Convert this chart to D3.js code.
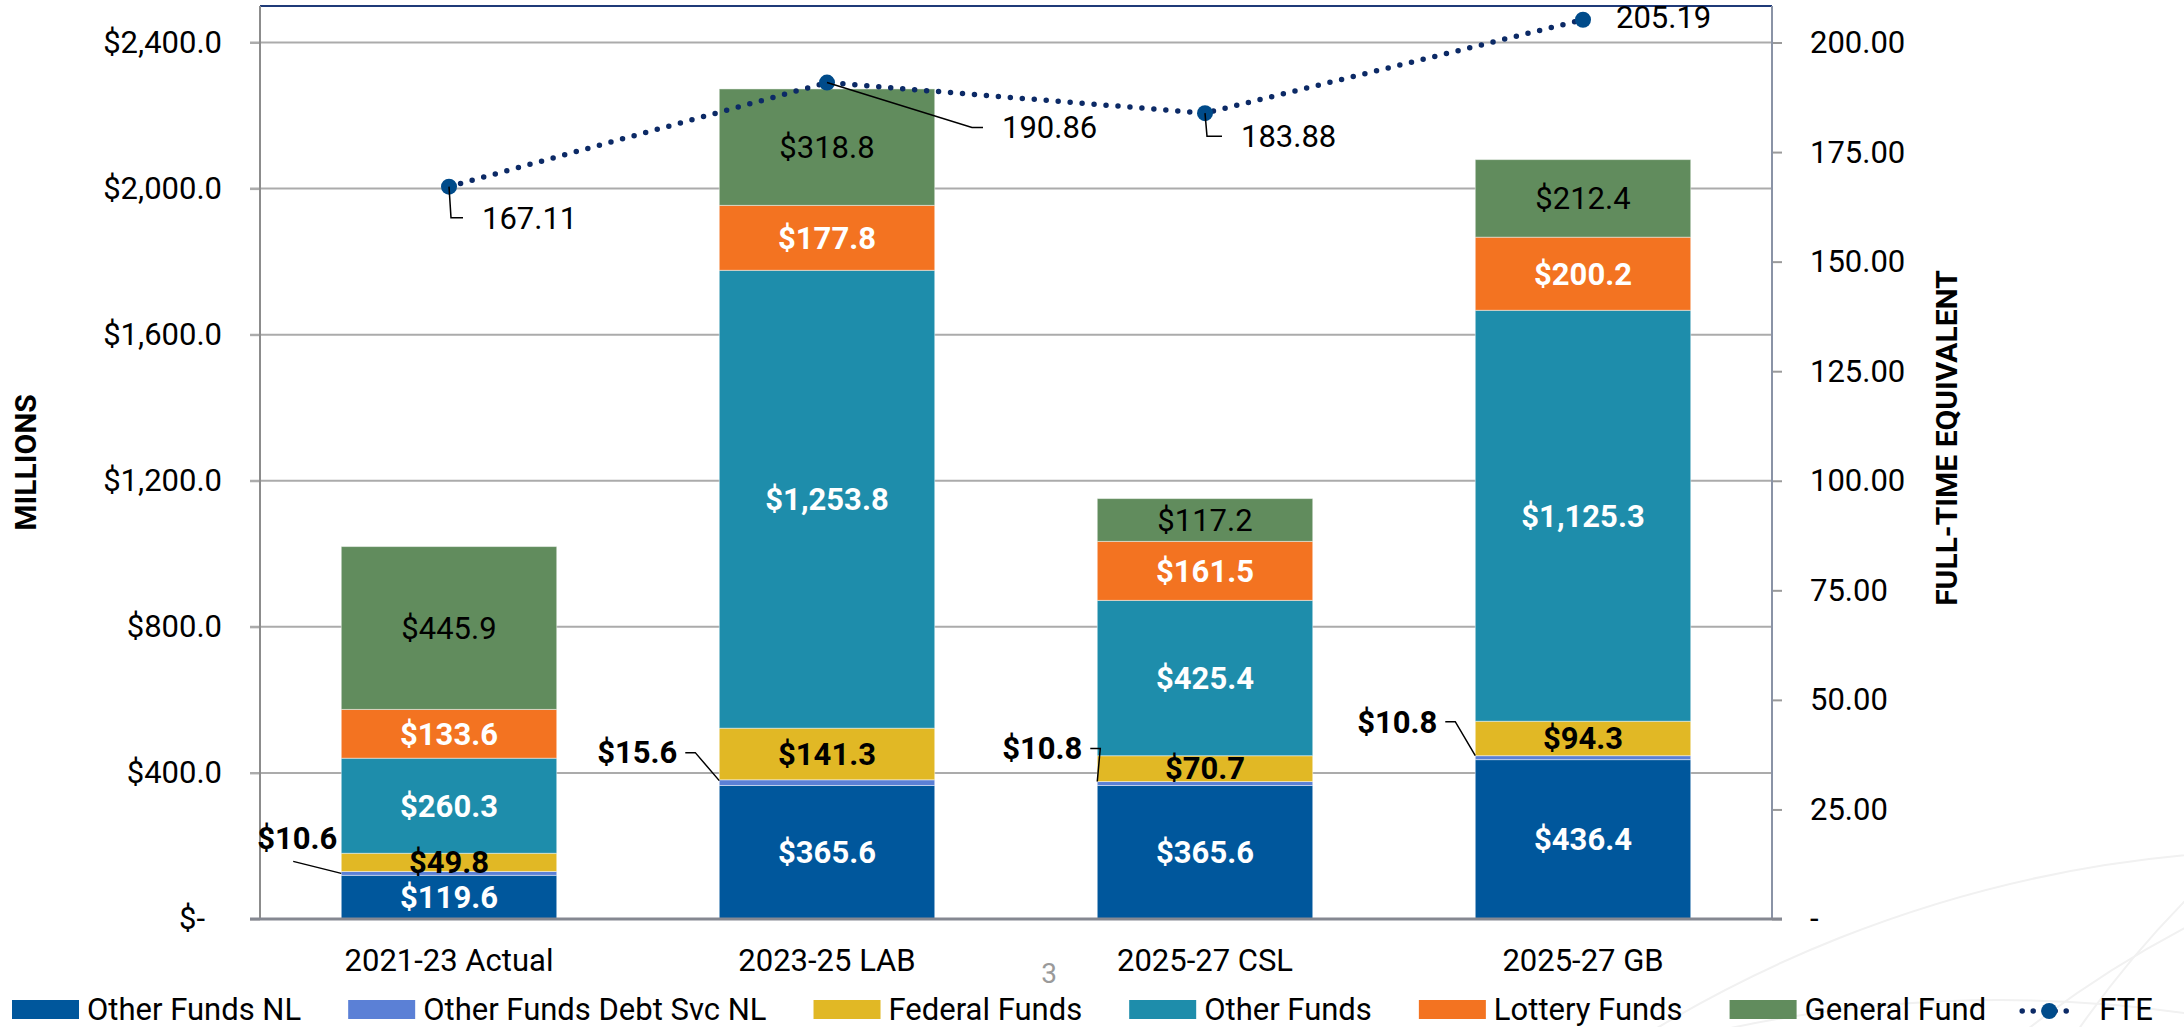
<!DOCTYPE html>
<html>
<head>
<meta charset="utf-8">
<script src="https://cdn.jsdelivr.net/npm/d3@7"></script>
<style>
  body { margin: 0; background: #fff; }
  svg { display: block; font-family: Roboto, "Noto Sans", sans-serif; }
</style>
</head>
<body>
<svg id="chart" width="2184" height="1027"></svg>
<script>
// values (millions / FTE)
const categories = ["2021-23 Actual", "2023-25 LAB", "2025-27 CSL", "2025-27 GB"];
const otherFundsNL = [119.6, 365.6, 365.6, 436.4];
const debtSvcNL = [10.6, 15.6, 10.8, 10.8];
const federalFunds = [49.8, 141.3, 70.7, 94.3];
const otherFunds = [260.3, 1253.8, 425.4, 1125.3];
const lotteryFunds = [133.6, 177.8, 161.5, 200.2];
const generalFund = [445.9, 318.8, 117.2, 212.4];
const fte = [167.11, 190.86, 183.88, 205.19];
const leftTicks = [0, 400, 800, 1200, 1600, 2000, 2400];
const rightTicks = [0, 25, 50, 75, 100, 125, 150, 175, 200];

const series = [
  { key: "nl", name: "Other Funds NL", values: otherFundsNL, color: "#00579c", text: "#fff", bold: true },
  { key: "debt", name: "Other Funds Debt Svc NL", values: debtSvcNL, color: "#5b80d6", text: "#000", bold: true, outside: true },
  { key: "fed", name: "Federal Funds", values: federalFunds, color: "#e1b825", text: "#000", bold: true },
  { key: "of", name: "Other Funds", values: otherFunds, color: "#1e8dab", text: "#fff", bold: true },
  { key: "lot", name: "Lottery Funds", values: lotteryFunds, color: "#f37321", text: "#fff", bold: true },
  { key: "gf", name: "General Fund", values: generalFund, color: "#618c5d", text: "#000", bold: false }
];

// hand-placed label offsets (like the moved labels in the source)
const debtLabelPos = [ { dx: -4, dy: -35, lead: "diag" }, { dx: -42, dy: -30, lead: "elbow" },
                       { dx: -15, dy: -35, lead: "elbow" }, { dx: -38, dy: -36, lead: "elbow" } ];
const fteLabelPos = [ { dx: 33, dy: 31, lead: "down" }, { dx: 175, dy: 45, lead: "diag" },
                      { dx: 36, dy: 23, lead: "down" }, { dx: 33, dy: -3, lead: "none" } ];

const svg = d3.select("#chart");
const W = +svg.attr("width"), H = +svg.attr("height");
const margin = { top: 6, right: 412, bottom: 108, left: 260 };
const width = W - margin.left - margin.right;
const height = H - margin.top - margin.bottom;

// faint background swirls, bottom right
const bg = svg.append("g").attr("fill", "none").attr("stroke", "#f1f1f1").attr("stroke-width", 2);
[[2300, 2100, 1250], [2700, 1900, 1100], [2000, 2300, 1300], [2900, 1600, 1000]].forEach(c => {
  bg.append("circle").attr("cx", c[0]).attr("cy", c[1]).attr("r", c[2]);
});

const g = svg.append("g").attr("transform", `translate(${margin.left},${margin.top})`);

const x = d3.scaleBand().domain(categories).range([0, width]).paddingInner(0.43).paddingOuter(0.215);
const y = d3.scaleLinear().domain([0, 2500]).range([height, 0]);
const y2 = d3.scaleLinear().domain([0, 2500 / 12]).range([height, 0]);

// gridlines
g.append("g").selectAll("line").data(leftTicks.filter(d => d > 0)).join("line")
  .attr("x1", -10).attr("x2", width)
  .attr("y1", d => y(d)).attr("y2", d => y(d))
  .attr("stroke", "#ababab").attr("stroke-width", 2);

// top border
g.append("line").attr("x1", 0).attr("x2", width).attr("y1", 0).attr("y2", 0)
  .attr("stroke", "#1f3a78").attr("stroke-width", 2);

// stacked bars
const table = categories.map((c, i) => {
  const row = { cat: c };
  series.forEach(s => row[s.key] = s.values[i]);
  return row;
});
const stacked = d3.stack().keys(series.map(s => s.key))(table);

const layers = g.append("g").selectAll("g").data(stacked).join("g")
  .attr("fill", (d, i) => series[i].color);
layers.selectAll("rect").data(d => d).join("rect")
  .attr("x", d => x(d.data.cat))
  .attr("width", x.bandwidth())
  .attr("y", d => y(d[1]))
  .attr("height", d => y(d[0]) - y(d[1]))
  .attr("stroke", "rgba(255,255,255,0.45)").attr("stroke-width", 1);

// axes
const fmtLeft = d => d === 0 ? "$-" : "$" + d3.format(",.1f")(d);
const leftAxis = g.append("g")
  .call(d3.axisLeft(y).tickValues(leftTicks).tickFormat(fmtLeft).tickSize(10).tickPadding(28));
leftAxis.select(".domain").remove();
leftAxis.selectAll(".tick line").attr("stroke", "#ababab").attr("stroke-width", 2);
leftAxis.selectAll(".tick text").attr("font-size", 31).attr("fill", "#000")
  .attr("font-family", "Roboto")
  .attr("dx", d => d === 0 ? -17 : 0);
g.append("line").attr("x1", 0).attr("x2", 0).attr("y1", 0).attr("y2", height)
  .attr("stroke", "#8c8c8c").attr("stroke-width", 2);

const rightAxis = g.append("g").attr("transform", `translate(${width},0)`)
  .call(d3.axisRight(y2).tickValues(rightTicks)
    .tickFormat(d => d === 0 ? "-" : d3.format(".2f")(d)).tickSize(10).tickPadding(28));
rightAxis.select(".domain").remove();
rightAxis.selectAll(".tick line").attr("stroke", "#9a9a9a").attr("stroke-width", 2);
rightAxis.selectAll(".tick text").attr("font-size", 31).attr("fill", "#000").attr("font-family", "Roboto");
g.append("line").attr("x1", width).attr("x2", width).attr("y1", 0).attr("y2", height)
  .attr("stroke", "#8a93a6").attr("stroke-width", 2);

// baseline
g.append("line").attr("x1", -10).attr("x2", width + 10).attr("y1", height).attr("y2", height)
  .attr("stroke", "#858891").attr("stroke-width", 3);

// category labels
g.append("g").selectAll("text").data(categories).join("text")
  .attr("x", d => x(d) + x.bandwidth() / 2)
  .attr("y", height + 41)
  .attr("dy", "0.35em")
  .attr("text-anchor", "middle")
  .attr("font-size", 31)
  .text(d => d);

// segment labels
const fmtVal = d => "$" + d3.format(",.1f")(d);
stacked.forEach((layer, si) => {
  const s = series[si];
  layer.forEach((d, i) => {
    const mid = (y(d[0]) + y(d[1])) / 2;
    const left = x(d.data.cat);
    if (s.outside) {
      const p = debtLabelPos[i];
      const t = g.append("text")
        .attr("x", left + p.dx).attr("y", mid + p.dy).attr("dy", "0.35em")
        .attr("text-anchor", "end").attr("font-size", 31).attr("font-weight", "bold")
        .attr("fill", s.text).text(fmtVal(s.values[i]));
      const tw = t.node().getComputedTextLength();
      let pts;
      if (p.lead === "diag") {
        pts = [[left + p.dx - tw / 2 - 4, mid + p.dy + 23], [left, mid]];
      } else {
        pts = [[left + p.dx + 8, mid + p.dy], [left + p.dx + 18, mid + p.dy], [left, mid - 2]];
      }
      g.append("path").attr("d", d3.line()(pts)).attr("fill", "none")
        .attr("stroke", "#000").attr("stroke-width", 1.5);
    } else {
      g.append("text")
        .attr("x", left + x.bandwidth() / 2).attr("y", mid).attr("dy", "0.35em")
        .attr("text-anchor", "middle").attr("font-size", 31)
        .attr("font-weight", s.bold ? "bold" : "normal")
        .attr("fill", s.text).text(fmtVal(s.values[i]));
    }
  });
});

// FTE line
const fx = (d, i) => x(categories[i]) + x.bandwidth() / 2;
g.append("path").datum(fte)
  .attr("d", d3.line().x(fx).y(d => y2(d)))
  .attr("fill", "none").attr("stroke", "#0c2a66")
  .attr("stroke-width", 5.5).attr("stroke-linecap", "round").attr("stroke-dasharray", "0 12");
g.append("g").selectAll("circle").data(fte).join("circle")
  .attr("cx", fx).attr("cy", d => y2(d)).attr("r", 8).attr("fill", "#004b8a");

fte.forEach((v, i) => {
  const px = fx(v, i), py = y2(v), p = fteLabelPos[i];
  const lx = px + p.dx, ly = py + p.dy;
  g.append("text").attr("x", lx).attr("y", ly).attr("dy", "0.35em")
    .attr("font-size", 31).text(d3.format(".2f")(v));
  let pts = null;
  if (p.lead === "down") pts = [[px, py], [px + 2, ly], [lx - 19, ly]];
  if (p.lead === "diag") pts = [[px, py], [lx - 30, ly], [lx - 19, ly]];
  if (pts) g.append("path").attr("d", d3.line()(pts)).attr("fill", "none")
    .attr("stroke", "#000").attr("stroke-width", 1.5);
});

// axis titles
svg.append("text").attr("transform", `translate(25,${margin.top + height / 2}) rotate(-90)`)
  .attr("text-anchor", "middle").attr("dy", "0.35em")
  .attr("font-size", 30).attr("font-weight", "bold").text("MILLIONS");
svg.append("text").attr("transform", `translate(1946,438) rotate(-90)`)
  .attr("text-anchor", "middle").attr("dy", "0.35em")
  .attr("font-size", 30).attr("font-weight", "bold").text("FULL-TIME EQUIVALENT");

// page number
svg.append("text").attr("x", 1049).attr("y", 973).attr("dy", "0.35em")
  .attr("text-anchor", "middle").attr("font-size", 28).attr("fill", "#9a9a9a").text("3");

// legend
const legend = svg.append("g").attr("transform", "translate(12,1009)");
let lx = 0;
series.forEach(s => {
  legend.append("rect").attr("x", lx).attr("y", -9).attr("width", 67).attr("height", 19).attr("fill", s.color);
  const t = legend.append("text").attr("x", lx + 75).attr("y", 0).attr("dy", "0.35em")
    .attr("font-size", 31).text(s.name);
  lx += 75 + t.node().getComputedTextLength() + 47;
});
lx -= 14;
legend.append("line").attr("x1", lx + 3).attr("x2", lx + 57).attr("y1", 2).attr("y2", 2)
  .attr("stroke", "#0c2a66").attr("stroke-width", 5.5).attr("stroke-linecap", "round")
  .attr("stroke-dasharray", "0 11");
legend.append("circle").attr("cx", lx + 30).attr("cy", 2).attr("r", 8).attr("fill", "#004b8a");
legend.append("text").attr("x", lx + 80).attr("y", 0).attr("dy", "0.35em")
  .attr("font-size", 31).text("FTE");
</script>
</body>
</html>
